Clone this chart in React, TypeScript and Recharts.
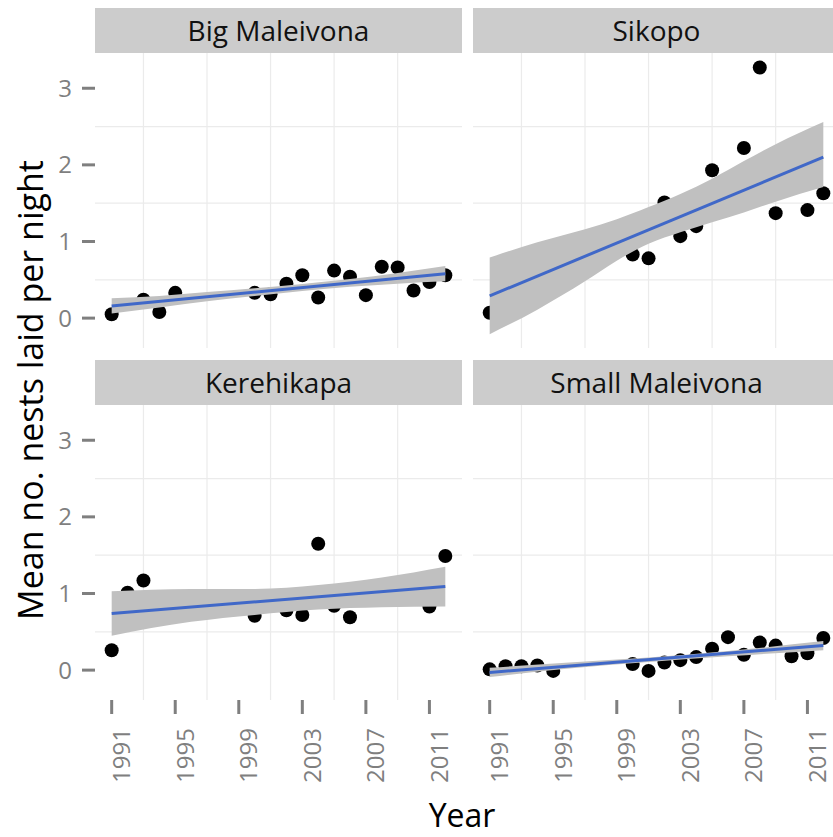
import React from "react";
import {
  ComposedChart,
  Scatter,
  Area,
  Line,
  XAxis,
  YAxis,
  CartesianGrid,
} from "recharts";

// x / y ticks and grid lines
const xTicks = [1991, 1995, 1999, 2003, 2007, 2011];
const yTicks = [0, 1, 2, 3];
const gridYears = [1993, 1997, 2001, 2005, 2009];
const gridValues = [0.5, 1.5, 2.5];

// fitted line end points
const fitYears = [1991, 2012];

// Big Maleivona
const bigYears = [1991, 1993, 1994, 1995, 2000, 2001, 2002, 2003, 2004, 2005, 2006, 2007, 2008, 2009, 2010, 2011, 2012];
const bigNests = [0.05, 0.24, 0.08, 0.33, 0.33, 0.31, 0.45, 0.56, 0.27, 0.62, 0.54, 0.3, 0.67, 0.66, 0.36, 0.47, 0.56];
const bigFit = [0.157, 0.58];
const bigBandYears = [1991, 1994, 1997, 2000, 2003, 2006, 2009, 2012];
const bigBandLow = [0.06, 0.14, 0.22, 0.29, 0.355, 0.41, 0.45, 0.48];
const bigBandHigh = [0.26, 0.29, 0.34, 0.39, 0.445, 0.51, 0.59, 0.68];

// Sikopo
const sikYears = [1991, 2000, 2001, 2002, 2003, 2004, 2005, 2006, 2007, 2008, 2009, 2011, 2012];
const sikNests = [0.07, 0.83, 0.78, 1.51, 1.07, 1.2, 1.93, 1.82, 2.22, 3.27, 1.37, 1.41, 1.63];
const sikFit = [0.29, 2.1];
const sikBandYears = [1991, 1994, 1997, 1999, 2001, 2003, 2005, 2007, 2009, 2012];
const sikBandLow = [-0.21, 0.11, 0.48, 0.75, 0.97, 1.12, 1.25, 1.38, 1.52, 1.71];
const sikBandHigh = [0.79, 0.99, 1.16, 1.29, 1.45, 1.62, 1.82, 2.05, 2.27, 2.56];

// Kerehikapa
const kerYears = [1991, 1992, 1993, 2000, 2002, 2003, 2004, 2005, 2006, 2011, 2012];
const kerNests = [0.26, 1.01, 1.17, 0.71, 0.78, 0.72, 1.65, 0.84, 0.69, 0.83, 1.49];
const kerFit = [0.74, 1.09];
const kerBandYears = [1991, 1996, 2000, 2004, 2008, 2012];
const kerBandLow = [0.45, 0.63, 0.72, 0.79, 0.82, 0.83];
const kerBandHigh = [1.03, 1.06, 1.06, 1.11, 1.21, 1.35];

// Small Maleivona
const smlYears = [1991, 1992, 1993, 1994, 1995, 2000, 2001, 2002, 2003, 2004, 2005, 2006, 2007, 2008, 2009, 2010, 2011, 2012];
const smlNests = [0.01, 0.05, 0.05, 0.06, -0.01, 0.08, -0.01, 0.1, 0.13, 0.17, 0.28, 0.43, 0.2, 0.36, 0.32, 0.18, 0.22, 0.42];
const smlFit = [-0.03, 0.32];
const smlBandYears = [1991, 1996, 2001, 2006, 2012];
const smlBandLow = [-0.09, 0.02, 0.105, 0.18, 0.26];
const smlBandHigh = [0.03, 0.1, 0.165, 0.25, 0.38];

const FONT = "'Open Sans', 'Noto Sans', sans-serif";
const TICK_GREY = "#7f7f7f";
const X_DOMAIN = [1989.95, 2013.05];
const Y_DOMAIN = [-0.39, 3.46];

const points = (years: number[], vals: number[]) => years.map((year, i) => ({ year, value: vals[i] }));
const band = (years: number[], lo: number[], hi: number[]) =>
  years.map((year, i) => ({ year, band: [lo[i], hi[i]] }));
const fit = (vals: number[]) => fitYears.map((year, i) => ({ year, fit: vals[i] }));

const Dot = (p: any) => <circle cx={p.cx} cy={p.cy} r={7} fill="#000" />;

const YearTick = (p: any) => {
  const cx = p.x + 9;
  return (
    <text
      x={cx}
      y={p.y}
      transform={`rotate(-90 ${cx} ${p.y})`}
      textAnchor="end"
      dominantBaseline="central"
      fontSize={24}
      fill={TICK_GREY}
    >
      {p.payload.value}
    </text>
  );
};

function Panel({
  title,
  left,
  top,
  pts,
  bnd,
  line,
  showY,
  showX,
}: {
  title: string;
  left: number;
  top: number;
  pts: { year: number; value: number }[];
  bnd: { year: number; band: number[] }[];
  line: { year: number; fit: number }[];
  showY: boolean;
  showX: boolean;
}) {
  const plotW = 367;
  const plotH = 295;
  const yW = showY ? 95 : 0;
  const xH = showX ? 110 : 0;
  const w = plotW + yW;
  const h = plotH + xH;
  return (
    <>
      <div
        style={{
          position: "absolute",
          left: left + yW,
          top,
          width: plotW,
          height: 45,
          background: "#cccccc",
          color: "#111",
          fontSize: 28,
          lineHeight: "45px",
          textAlign: "center",
        }}
      >
        {title}
      </div>
      {/* grid, axes and points */}
      <div style={{ position: "absolute", left, top: top + 45 }}>
        <ComposedChart width={w} height={h} margin={{ top: 0, right: 0, bottom: 0, left: 0 }}>
          <CartesianGrid
            stroke="#ebebeb"
            strokeWidth={1.2}
            horizontalValues={gridValues}
            verticalValues={gridYears}
          />
          <XAxis
            type="number"
            dataKey="year"
            domain={X_DOMAIN}
            allowDataOverflow
            ticks={xTicks}
            hide={!showX}
            height={xH}
            axisLine={false}
            tickLine={{ stroke: TICK_GREY, strokeWidth: 3 }}
            tickSize={14}
            tickMargin={14}
            tick={<YearTick />}
            interval={0}
          />
          <YAxis
            type="number"
            domain={Y_DOMAIN}
            allowDataOverflow
            ticks={yTicks}
            hide={!showY}
            width={yW}
            axisLine={false}
            tickLine={{ stroke: TICK_GREY, strokeWidth: 3 }}
            tickSize={13}
            tickMargin={10}
            tick={{ fontSize: 24, fill: TICK_GREY }}
            interval={0}
          />
          <Scatter data={pts} dataKey="value" shape={Dot} isAnimationActive={false} />
        </ComposedChart>
      </div>
      {/* confidence band and fitted line drawn over the points */}
      <div style={{ position: "absolute", left, top: top + 45 }}>
        <ComposedChart
          width={w}
          height={h}
          data={bnd}
          margin={{ top: 0, right: 0, bottom: xH, left: yW }}
        >
          <XAxis type="number" dataKey="year" domain={X_DOMAIN} allowDataOverflow hide />
          <YAxis type="number" domain={Y_DOMAIN} allowDataOverflow hide />
          <Area
            dataKey="band"
            type="monotone"
            stroke="none"
            fill="#c0c0c0"
            fillOpacity={1}
            isAnimationActive={false}
          />
          <Line
            data={line}
            dataKey="fit"
            stroke="#4068c8"
            strokeWidth={3}
            dot={false}
            isAnimationActive={false}
          />
        </ComposedChart>
      </div>
    </>
  );
}

export default function App() {
  return (
    <div
      style={{
        position: "absolute",
        left: 0,
        top: 0,
        width: 833,
        height: 837,
        overflow: "hidden",
        background: "#fff",
        fontFamily: FONT,
      }}
    >
      <Panel
        title="Big Maleivona"
        left={0}
        top={8}
        pts={points(bigYears, bigNests)}
        bnd={band(bigBandYears, bigBandLow, bigBandHigh)}
        line={fit(bigFit)}
        showY
        showX={false}
      />
      <Panel
        title="Sikopo"
        left={473}
        top={8}
        pts={points(sikYears, sikNests)}
        bnd={band(sikBandYears, sikBandLow, sikBandHigh)}
        line={fit(sikFit)}
        showY={false}
        showX={false}
      />
      <Panel
        title="Kerehikapa"
        left={0}
        top={360}
        pts={points(kerYears, kerNests)}
        bnd={band(kerBandYears, kerBandLow, kerBandHigh)}
        line={fit(kerFit)}
        showY
        showX
      />
      <Panel
        title="Small Maleivona"
        left={473}
        top={360}
        pts={points(smlYears, smlNests)}
        bnd={band(smlBandYears, smlBandLow, smlBandHigh)}
        line={fit(smlFit)}
        showY={false}
        showX
      />
      <svg
        width={833}
        height={837}
        style={{ position: "absolute", left: 0, top: 0, pointerEvents: "none" }}
      >
        <text
          x={43}
          y={390}
          transform="rotate(-90 43 390)"
          textAnchor="middle"
          fontSize={34}
          fill="#000"
        >
          Mean no. nests laid per night
        </text>
        <text x={462} y={827} textAnchor="middle" fontSize={32} fill="#000">
          Year
        </text>
      </svg>
    </div>
  );
}
